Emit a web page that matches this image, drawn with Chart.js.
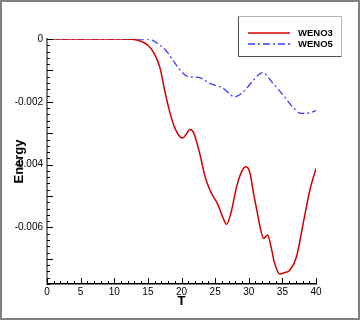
<!DOCTYPE html>
<html>
<head>
<meta charset="utf-8">
<script src="https://cdn.jsdelivr.net/npm/chart.js@4.4.0/dist/chart.umd.min.js"></script>
<style>
  body { margin: 0; background: #fff; }
  canvas { display: block; }
</style>
</head>
<body>
<canvas id="energyChart" width="360" height="320"></canvas>
<script>
// values
const weno3T = [0, 10, 12, 13, 14, 15, 16, 16.8, 17.55, 18.3, 19.0, 19.8, 20.2, 20.7, 21.25, 21.8, 22.7, 23.5, 24.2, 25.45, 26.1, 26.7, 27.4, 28.2, 29.0, 29.6, 30.2, 30.7, 31.2, 31.7, 32.2, 32.8, 33.3, 33.8, 34.6, 35.3, 36.1, 37.1, 38.1, 39.1, 40];
const weno3E = [0, 0, 0, -0.00002, -0.00007, -0.0002, -0.00048, -0.00092, -0.00169, -0.00236, -0.00283, -0.00312, -0.00315, -0.00303, -0.00288, -0.00298, -0.00364, -0.00438, -0.0048, -0.00529, -0.00565, -0.0059, -0.0055, -0.0047, -0.0042, -0.00407, -0.00428, -0.0049, -0.00545, -0.006, -0.00635, -0.00624, -0.0066, -0.0071, -0.00748, -0.00744, -0.00736, -0.00693, -0.00587, -0.0048, -0.00412];

const weno5T = [0, 14, 14.8, 15.8, 16.8, 17.3, 18.0, 18.8, 19.8, 21.0, 22.5, 24.2, 26.2, 27.9, 29.2, 30.7, 32.05, 33.6, 35.1, 36.6, 37.8, 39.1, 40];
const weno5E = [0, 0, 0, -0.00005, -0.0002, -0.00028, -0.00045, -0.0007, -0.00099, -0.0012, -0.00122, -0.00141, -0.00157, -0.00184, -0.00168, -0.00131, -0.00107, -0.00141, -0.00178, -0.00218, -0.00237, -0.00235, -0.00228];

const seriesNames = ['WENO3', 'WENO5'];
const xTicks = [0, 5, 10, 15, 20, 25, 30, 35, 40];
const yTicks = [0, -0.002, -0.004, -0.006];

const toPoints = (xs, ys) => xs.map((x, i) => ({ x: x, y: ys[i] }));

// inward tick marks, frame and legend
const decorations = {
  id: 'decorations',
  afterDraw(chart) {
    const c = chart.ctx;
    const xs = chart.scales.x, ys = chart.scales.y;
    const a = chart.chartArea;
    c.save();
    c.strokeStyle = '#000';
    c.lineWidth = 1;
    // y ticks
    for (let k = 0; k <= 39; k++) {
      const v = -k * 0.0002;
      const py = Math.round(ys.getPixelForValue(v)) + 0.5;
      const len = (k % 5 === 0) ? 6 : 3;
      c.beginPath(); c.moveTo(a.left, py); c.lineTo(a.left + len, py); c.stroke();
    }
    // x ticks
    for (let t = 0; t <= 40; t++) {
      const px = Math.round(xs.getPixelForValue(t)) + 0.5;
      const len = (t % 5 === 0) ? 6 : 3;
      c.beginPath(); c.moveTo(px, a.bottom); c.lineTo(px, a.bottom - len); c.stroke();
    }
    // outer frame
    c.strokeStyle = '#808080';
    c.lineWidth = 2;
    c.strokeRect(1, 1, chart.width - 2, chart.height - 2);

    // legend box
    c.lineWidth = 1;
    c.strokeStyle = '#b0b0b0';
    c.beginPath(); c.moveTo(238.5, 16.5); c.lineTo(341.5, 16.5); c.lineTo(341.5, 56.5); c.stroke();
    c.strokeStyle = '#505050';
    c.beginPath(); c.moveTo(238.5, 16.5); c.lineTo(238.5, 56.5); c.lineTo(341.5, 56.5); c.stroke();

    const rows = [33, 44];
    chart.data.datasets.forEach((ds, i) => {
      c.strokeStyle = ds.borderColor;
      c.lineWidth = ds.borderWidth;
      c.setLineDash(ds.borderDash || []);
      c.beginPath(); c.moveTo(248, rows[i]); c.lineTo(290, rows[i]); c.stroke();
      c.setLineDash([]);
      c.fillStyle = '#000';
      c.font = 'bold 9.5px "Liberation Sans", Arial, sans-serif';
      c.textBaseline = 'middle';
      c.fillText(ds.label, 298, rows[i] + 0.5);
    });
    c.restore();
  }
};

new Chart(document.getElementById('energyChart'), {
  type: 'line',
  data: {
    datasets: [{
      label: seriesNames[0],
      data: toPoints(weno3T, weno3E),
      borderColor: '#d40000',
      borderWidth: 1.5,
      pointRadius: 0,
      cubicInterpolationMode: 'monotone',
      fill: false
    }, {
      label: seriesNames[1],
      data: toPoints(weno5T, weno5E),
      borderColor: '#3a3aff',
      borderWidth: 1.3,
      borderDash: [7, 3, 2, 3],
      pointRadius: 0,
      cubicInterpolationMode: 'monotone',
      fill: false
    }]
  },
  options: {
    responsive: false,
    animation: false,
    layout: { padding: { top: 39, right: 44, left: 0, bottom: 0 } },
    plugins: { legend: { display: false }, tooltip: { enabled: false } },
    scales: {
      x: {
        type: 'linear',
        min: 0, max: 40,
        afterBuildTicks: (s) => { s.ticks = xTicks.map(v => ({ value: v })); },
        afterFit: (s) => { s.height = 36; },
        grid: { display: false, drawTicks: false },
        border: { display: true, color: '#000', width: 1.5 },
        ticks: {
          padding: 2,
          color: '#000',
          font: { family: '"Liberation Sans", Arial, sans-serif', size: 10 },
          maxRotation: 0
        },
        title: {
          display: true, text: 'T', color: '#000',
          font: { family: '"Liberation Sans", Arial, sans-serif', size: 13, weight: 'bold' },
          padding: { top: 0, bottom: 11 }
        }
      },
      y: {
        type: 'linear',
        min: -0.0078, max: 0,
        afterBuildTicks: (s) => { s.ticks = yTicks.map(v => ({ value: v })); },
        afterFit: (s) => { s.width = 47; },
        grid: { display: false, drawTicks: false },
        border: { display: true, color: '#808080', width: 2 },
        ticks: {
          padding: 4,
          color: '#000',
          font: { family: '"Liberation Sans", Arial, sans-serif', size: 10 },
          callback: (v) => v === 0 ? '0' : v.toFixed(3)
        },
        title: {
          display: true, text: 'Energy', color: '#000',
          font: { family: '"Liberation Sans", Arial, sans-serif', size: 13, weight: 'bold' },
          padding: { top: 12, bottom: 0 }
        }
      }
    }
  },
  plugins: [decorations]
});
</script>
</body>
</html>
